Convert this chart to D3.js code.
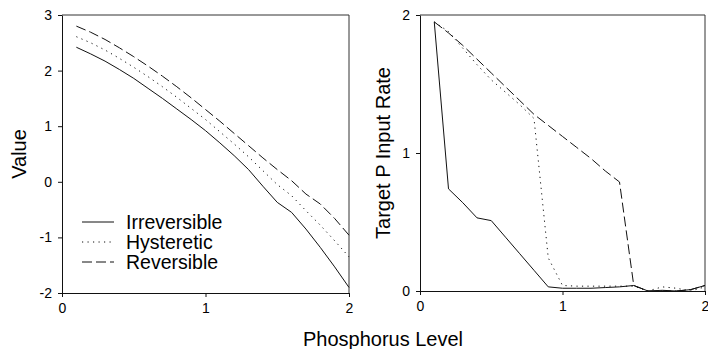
<!DOCTYPE html>
<html>
<head>
<meta charset="utf-8">
<script src="https://cdn.jsdelivr.net/npm/d3@7/dist/d3.min.js"></script>
<style>
  html, body { margin: 0; padding: 0; background: #fff; }
  svg { display: block; }
  text { font-family: "Liberation Sans", Arial, sans-serif; fill: #000; }
</style>
</head>
<body>
<svg id="chart" width="708" height="349"></svg>
<script>
// ---- Data ----
const phosphorus = [0.1,0.2,0.3,0.4,0.5,0.6,0.7,0.8,0.9,1.0,1.1,1.2,1.3,1.4,1.5,1.6,1.7,1.8,1.9,2.0];

const valueIrreversible = [2.42,2.30,2.17,2.02,1.86,1.68,1.50,1.31,1.12,0.92,0.70,0.47,0.22,-0.08,-0.37,-0.55,-0.85,-1.18,-1.53,-1.90];
const valueHysteretic   = [2.61,2.50,2.37,2.22,2.06,1.89,1.71,1.52,1.32,1.12,0.90,0.68,0.45,0.20,-0.05,-0.25,-0.52,-0.78,-1.06,-1.35];
const valueReversible   = [2.80,2.69,2.56,2.41,2.25,2.08,1.90,1.71,1.51,1.30,1.09,0.87,0.65,0.43,0.22,0.02,-0.22,-0.40,-0.66,-0.96];

const rateIrreversible = [1.95,0.74,0.64,0.53,0.51,0.39,0.27,0.15,0.03,0.02,0.02,0.02,0.025,0.03,0.04,0.0,0.005,0.0,0.01,0.04];
const rateHysteretic   = [1.95,1.88,1.76,1.64,1.53,1.44,1.35,1.25,0.24,0.04,0.035,0.035,0.035,0.035,0.035,0.0,0.03,0.02,0.0,0.03];
const rateReversible   = [1.95,1.87,1.78,1.68,1.58,1.48,1.38,1.28,1.20,1.12,1.04,0.96,0.87,0.79,0.04,0.0,0.0,0.0,0.01,0.04];

const seriesNames = ["Irreversible","Hysteretic","Reversible"];
const valueTicks = [-2,-1,0,1,2,3];
const rateTicks = [0,1,2];
const xTicks = [0,1,2];

// ---- Styles ----
const dashes = {"Irreversible": null, "Hysteretic": "1.2,4.3", "Reversible": "10,4"};
const ink = "#111";
const fmt = d => String(d);

const svg = d3.select("#chart");

function panel(cfg) {
  const x = d3.scaleLinear().domain([0,2]).range([cfg.x0, cfg.x1]);
  const y = d3.scaleLinear().domain(cfg.yDomain).range([cfg.y1, cfg.y0]);
  const g = svg.append("g");

  // frame (top & right)
  g.append("path")
    .attr("d", `M${cfg.x0},${cfg.y0}H${cfg.x1}V${cfg.y1}`)
    .attr("fill","none").attr("stroke","#333").attr("stroke-width",1);

  const xAxis = g.append("g").attr("transform",`translate(0,${cfg.y1})`)
    .call(d3.axisBottom(x).tickValues(xTicks).tickFormat(fmt).tickSize(4).tickSizeOuter(0).tickPadding(6));
  const yAxis = g.append("g").attr("transform",`translate(${cfg.x0},0)`)
    .call(d3.axisLeft(y).tickValues(cfg.ticks).tickFormat(fmt).tickSize(4).tickSizeOuter(0).tickPadding(6));
  [xAxis,yAxis].forEach(a => {
    a.selectAll("path,line").attr("stroke", ink);
    a.selectAll("text").style("font-size","14px").style("font-family","Liberation Sans, Arial, sans-serif").attr("fill","#000");
  });

  const line = d3.line().x((d,i) => x(phosphorus[i])).y(d => y(d));
  cfg.series.forEach((vals, k) => {
    g.append("path").datum(vals)
      .attr("d", line)
      .attr("fill","none")
      .attr("stroke", ink)
      .attr("stroke-width", 1)
      .attr("stroke-dasharray", dashes[seriesNames[k]]);
  });

  g.append("text")
    .attr("transform", `translate(${cfg.titleX},${(cfg.y0+cfg.y1)/2}) rotate(-90)`)
    .attr("text-anchor","middle")
    .style("font-size","20px")
    .text(cfg.title);
  return {x, y, g};
}

const left = panel({x0:62, x1:349, y0:15, y1:293, yDomain:[-2,3], ticks:valueTicks,
  series:[valueIrreversible, valueHysteretic, valueReversible], title:"Value", titleX:26});
const right = panel({x0:420, x1:705, y0:15, y1:291, yDomain:[0,2], ticks:rateTicks,
  series:[rateIrreversible, rateHysteretic, rateReversible], title:"Target P Input Rate", titleX:390});

// shared x title
svg.append("text").attr("x", 383).attr("y", 346).attr("text-anchor","middle")
  .style("font-size","20px").text("Phosphorus Level");

// legend
const leg = svg.append("g");
seriesNames.forEach((name, i) => {
  const yy = 222 + i*20;
  leg.append("line").attr("x1",82).attr("x2",114).attr("y1",yy).attr("y2",yy)
    .attr("stroke", ink).attr("stroke-width",1).attr("stroke-dasharray", dashes[name]);
  leg.append("text").attr("x",126).attr("y",yy+7).style("font-size","19.5px").text(name);
});
</script>
</body>
</html>
